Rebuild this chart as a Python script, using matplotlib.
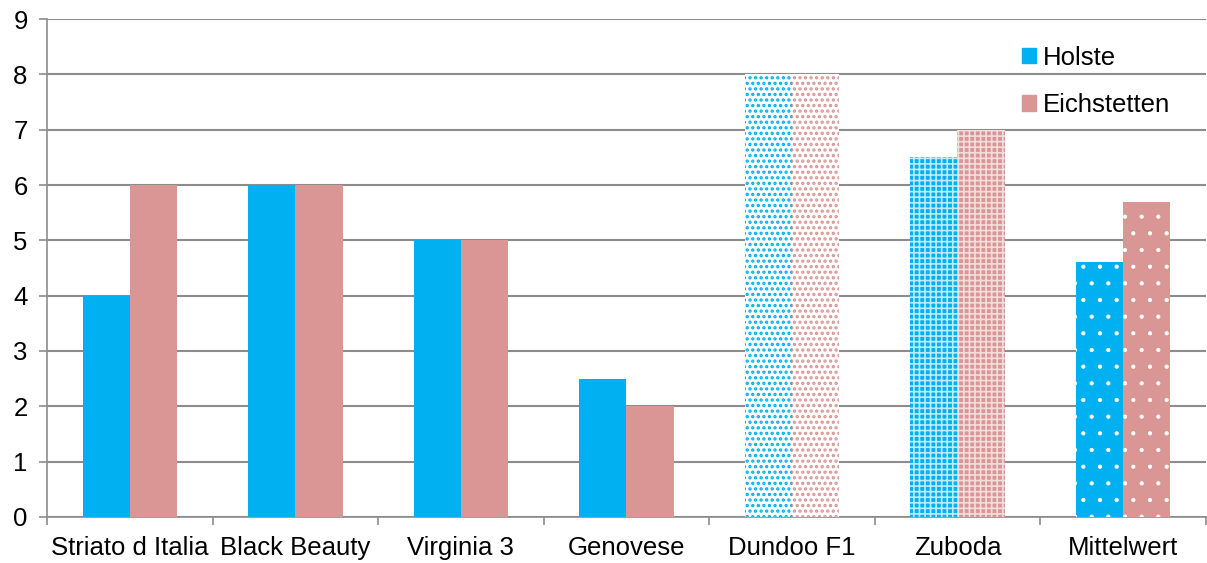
import numpy as np
import matplotlib.pyplot as plt
from matplotlib.patches import Patch

plt.rcParams['font.family'] = ['Liberation Sans', 'DejaVu Sans']
plt.rcParams['hatch.linewidth'] = 1.0

sorten = ['Striato d Italia', 'Black Beauty', 'Virginia 3', 'Genovese',
          'Dundoo F1', 'Zuboda', 'Mittelwert']
holste = [4, 6, 5, 2.5, 8, 6.5, 4.6]
eichstetten = [6, 6, 5, 2, 8, 7, 5.7]

blau = '#00B0F0'
rosa = '#D99694'

fig, ax = plt.subplots(figsize=(12.07, 5.63), dpi=100)
fig.subplots_adjust(left=0.039, right=0.999, bottom=0.082, top=0.966)

x = np.arange(len(sorten))
w = 1 / 3.5

b1 = ax.bar(x - w / 2, holste, w, color=blau, linewidth=0, zorder=3)
b2 = ax.bar(x + w / 2, eichstetten, w, color=rosa, linewidth=0, zorder=3)


def muster(b, face, hatch_col, hatch, lw):
    b.set_facecolor(face)
    b.set_edgecolor(hatch_col)
    b.set_hatch(hatch)
    if hasattr(b, 'set_hatch_linewidth'):
        b.set_hatch_linewidth(lw)


# Dundoo F1: dotted pattern on white
muster(b1[4], 'white', blau, '...', 1.6)
muster(b2[4], 'white', rosa, '...', 1.6)
# Zuboda: checkered pattern
muster(b1[5], blau, '#bfeafb', '+++', 1.2)
muster(b2[5], rosa, '#f3dddc', '+++', 1.2)
# Mittelwert: white dots on solid
muster(b1[6], blau, 'white', '.', 0.6)
muster(b2[6], rosa, 'white', '.', 0.6)

ax.set_xlim(-0.5, len(sorten) - 0.5)
ax.set_ylim(0, 9)
ax.set_yticks(range(10))
ax.yaxis.grid(True, color='#8c8c8c', linewidth=1.5, zorder=0)
ax.set_axisbelow(True)

ax.set_xticks(x)
ax.set_xticklabels(sorten)
ax.set_xticks(np.arange(len(sorten) + 1) - 0.5, minor=True)
ax.tick_params(axis='x', which='major', length=0, pad=14)
ax.tick_params(axis='x', which='minor', length=6, color='#8c8c8c', width=1.2)
ax.tick_params(axis='y', length=6, color='#8c8c8c', width=1.2, pad=8)
ax.tick_params(labelsize=18.5)

for s in ('top', 'right'):
    ax.spines[s].set_visible(False)
for s in ('left', 'bottom'):
    ax.spines[s].set_color('#8c8c8c')
    ax.spines[s].set_linewidth(1.2)

ax.legend(handles=[Patch(color=blau), Patch(color=rosa)],
          labels=['Holste', 'Eichstetten'],
          loc='upper right', bbox_to_anchor=(0.989, 0.993), frameon=False,
          fontsize=18.5, handlelength=0.55, handleheight=0.55,
          handletextpad=0.25, labelspacing=0.9)

fig.savefig('out.png', dpi=100)
